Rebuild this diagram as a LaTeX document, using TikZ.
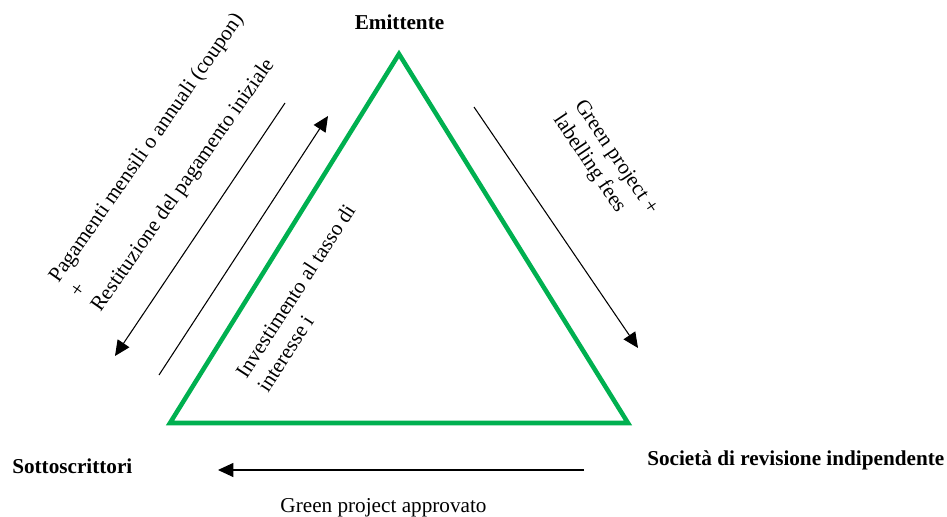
\documentclass[tikz,border=0pt]{standalone}
\usepackage{fontspec}
\setmainfont{Liberation Serif}
\usetikzlibrary{arrows.meta}
\definecolor{bondgreen}{RGB}{0,176,80}
\begin{document}
\begin{tikzpicture}[x=0.75pt,y=-0.75pt,
  lbl/.style={inner sep=0pt,font=\fontsize{15.9}{19.2}\selectfont},
  party/.style={lbl,font=\fontsize{15.9}{18.75}\selectfont\bfseries},
  flow/.style={line width=0.8pt,-{Triangle[length=11.5pt,width=10.5pt]}},
  frame/.style={draw=bondgreen,line width=3.4pt,line join=miter}]
\useasboundingbox (0,0) rectangle (947,517);

% triangle of the three parties
\coordinate (A) at (399,54);
\coordinate (B) at (170,423);
\coordinate (C) at (628,423);
\draw[frame] (A) -- (B) -- (C) -- cycle;

% parties
\node[party,anchor=base] (emi) at (399.5,30) {Emittente};
\node[party,anchor=base west] (sott) at (12,473) {Sottoscrittori};
\node[party,anchor=base west] (soc) at (647,465) {Società di revisione indipendente};

% cash and information flows
\coordinate (p1s) at (285,103);  \coordinate (p1e) at (115,356);
\coordinate (p2s) at (159,375);  \coordinate (p2e) at (328,116);
\coordinate (p3s) at (474,107);  \coordinate (p3e) at (638,348);
\coordinate (p4s) at (584,470);  \coordinate (p4e) at (218,470);
\draw[flow] (p1s) -- (p1e);
\draw[flow] (p2s) -- (p2e);
\draw[flow] (p3s) -- (p3e);
\draw[flow] (p4s) -- (p4e);

% flow labels
\node[lbl,align=left,rotate=55] (pag) at (168,163)
  {Pagamenti mensili o annuali (coupon)\\+\\Restituzione del pagamento iniziale};
\node[lbl,align=left,rotate=57] (inv) at (306,298)
  {Investimento al tasso di\\interesse i};
\node[lbl,align=left,rotate=-56] (fee) at (605,165)
  {Green project +\\labelling fees};
\node[lbl,anchor=base] (appr) at (383.5,512) {Green project approvato};
\end{tikzpicture}
\end{document}
